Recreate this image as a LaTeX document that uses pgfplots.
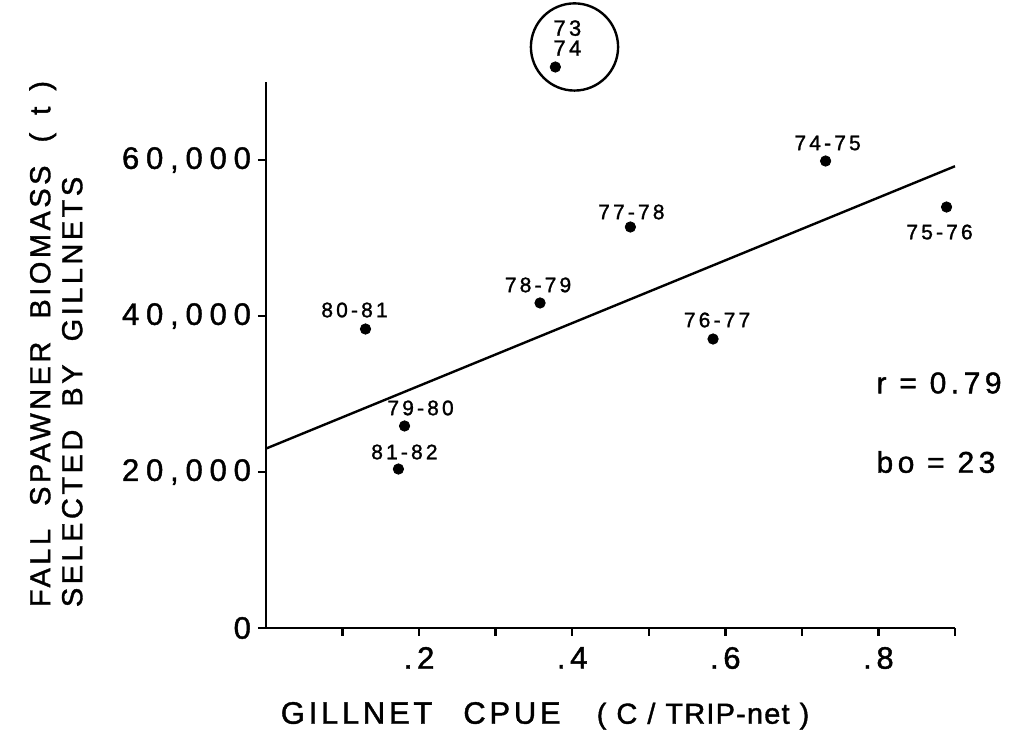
\documentclass[border=0pt]{standalone}
\usepackage{fontspec}
\setmainfont{Liberation Sans}[LetterSpace=12, FakeBold=1.3]
\newfontfamily\numfont{Liberation Sans}[LetterSpace=22, FakeBold=1.3]
\newfontfamily\ptfont{Liberation Sans}[LetterSpace=15, FakeBold=1.3]
\newfontfamily\tightfont{Liberation Sans}[LetterSpace=4, FakeBold=1.3]
\usepackage{pgfplots}
\pgfplotsset{compat=1.18}
\begin{document}
\begin{tikzpicture}[x=1pt,y=1pt]
\useasboundingbox (-133,-58) rectangle (374,314);
\begin{axis}[
  at={(0,0)}, anchor=south west,
  scale only axis, width=344.5pt, height=273pt,
  xmin=0, xmax=0.9, ymin=0, ymax=70000,
  scaled y ticks=false,
  axis x line=bottom, axis y line=left,
  axis line style={line width=1.2pt, -},
  xtick={0.2,0.4,0.6,0.8}, xticklabels={.2,.4,.6,.8},
  minor xtick={0.1,0.3,0.5,0.7,0.9},
  ytick={0,20000,40000,60000}, yticklabels={0,{20,000},{40,000},{60,000}},
  tick align=outside, major tick length=4pt, minor tick length=4pt,
  every tick/.style={black, line width=1.2pt},
  yticklabel style={font=\numfont\fontsize{15.5}{17}\selectfont},
  xticklabel style={yshift=-2pt, font=\ptfont\fontsize{15.5}{17}\selectfont},
  clip=false,
  xlabel={GILLNET\quad CPUE\quad\,{\tightfont\fontsize{14.5}{17}\selectfont(\hspace{5pt}C\hspace{5pt}/\hspace{5pt}TRIP-net\hspace{5pt})}},
  ylabel={FALL\ \ SPAWNER\ \ BIOMASS\ \ (\hspace{9pt}t\hspace{8pt})\\SELECTED\ \ BY\ \ GILLNETS},
  ylabel style={font=\fontsize{14.5}{16}\selectfont},
  xlabel style={font=\fontsize{15.5}{17}\selectfont},
  xlabel style={at={(axis description cs:0.405,-0.161)}, anchor=center},
  ylabel style={at={(axis description cs:-0.305,0.52)}, anchor=center, align=left},
]
\addplot[black, line width=1.2pt] coordinates {(0,23000) (0.9,59200)};
\addplot[only marks, mark=*, mark size=2.6pt, black,
  point meta=explicit symbolic,
  visualization depends on={value \thisrow{dx}\as\dx},
  visualization depends on={value \thisrow{dy}\as\dy},
  nodes near coords,
  every node near coord/.append style={anchor=center, inner sep=0pt, xshift=\dx pt, yshift=\dy pt, font=\ptfont\fontsize{10.5}{11}\selectfont, black}]
table[x=x, y=y, meta=lab] {
x y lab dx dy
0.130 38330 80-81 -5.5 9.5
0.358 41670 78-79 -1 9
0.181 25900 79-80 8 9
0.173 20380 81-82 3 8.5
0.476 51410 77-78 0.5 7.5
0.584 37050 76-77 2 9.5
0.731 59870 74-75 1 9
0.889 53970 75-76 -3.5 -12.5
};
\addplot[only marks, mark=*, mark size=2.6pt, black,
  point meta=explicit symbolic, nodes near coords,
  every node near coord/.append style={anchor=center, align=center, inner sep=0pt, xshift=6pt, yshift=14.5pt, font=\ptfont\fontsize{11}{10}\selectfont, black}]
coordinates {(0.378,71920) [{73\\74}]};
\draw[line width=1.2pt] (axis cs:0.403,74490) circle[radius=21.8pt];
\node[anchor=west, inner sep=0pt, font=\ptfont\fontsize{15}{17}\selectfont] at (axis cs:0.797,31410) {r = 0.79};
\node[anchor=west, inner sep=0pt, font=\ptfont\fontsize{15}{17}\selectfont] at (axis cs:0.797,21280) {bo = 23};
\end{axis}
\end{tikzpicture}
\end{document}
